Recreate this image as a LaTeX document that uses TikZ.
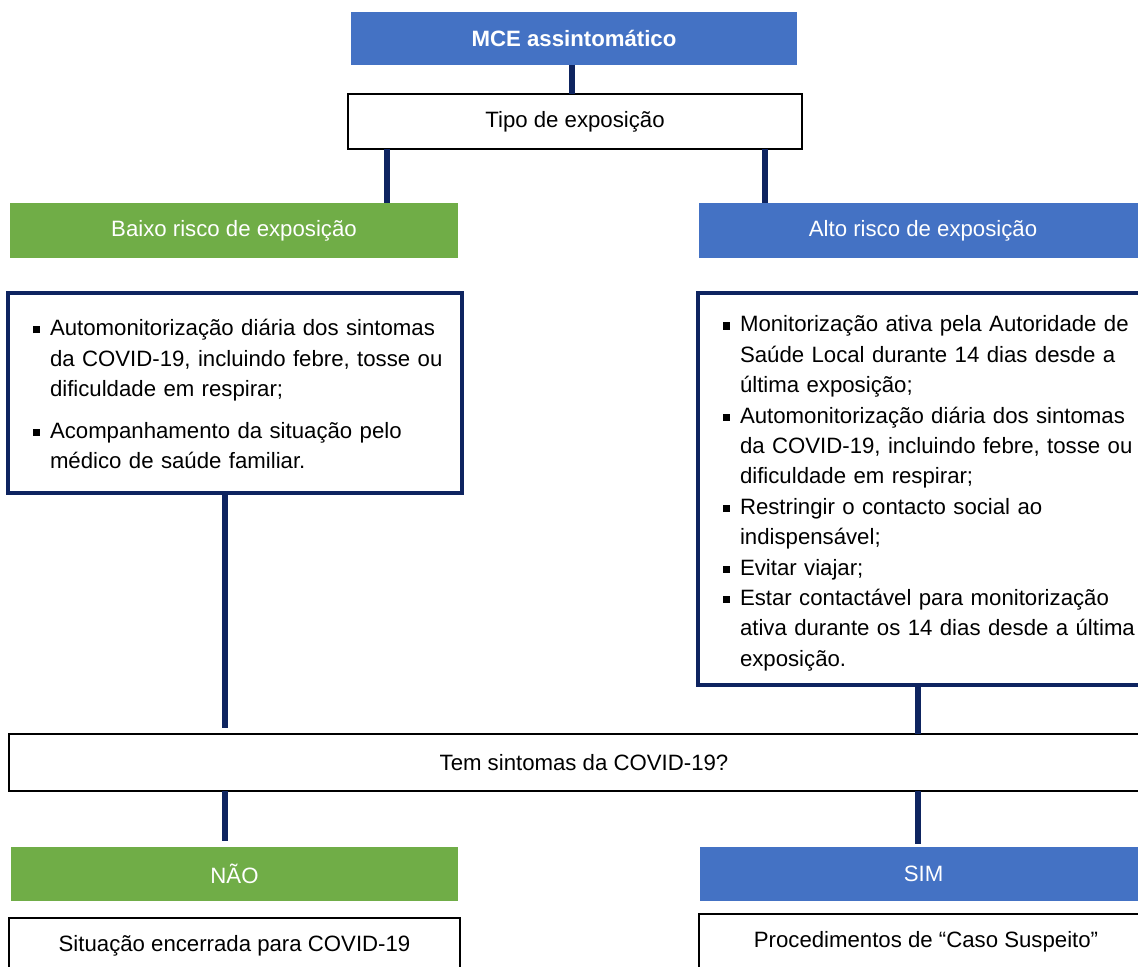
\documentclass[tikz,border=0pt]{standalone}
\usepackage{fontspec}
\setmainfont{Liberation Sans}
\usepackage{xcolor}
\usepackage{tikz}
\definecolor{boxblue}{HTML}{4472C4}
\definecolor{boxgreen}{HTML}{70AD47}
\definecolor{navy}{HTML}{0E2460}

\newcommand\bitem[1]{\par{\let\\\newline\noindent\hangindent=8.5pt\hangafter=1%
  \makebox[8.5pt][l]{\rule[1.1pt]{3.6pt}{3.6pt}}#1\par}}

\begin{document}
\begin{tikzpicture}[x=0.5pt, y=-0.5pt,
    box/.style={rectangle, inner sep=0pt, outer sep=0pt, anchor=north west,
      font=\fontsize{11.1}{13}\selectfont},
    bluebox/.style={box, fill=boxblue, text=white},
    greenbox/.style={box, fill=boxgreen, text=white},
    plainbox/.style={box, draw=black, line width=1pt, fill=white},
    listbox/.style={box, draw=navy, line width=1.6pt},
    bullets/.style={inner sep=0pt, outer sep=0pt, anchor=north west, text width=#1},
    link/.style={draw=navy, line width=2.6pt}]
    \useasboundingbox (0,0) rectangle (1138,966);
    \clip (0,0) rectangle (1138,966);

    \node[bluebox, minimum width=223pt, minimum height=26.5pt, font=\fontsize{11.1}{13}\selectfont\bfseries] (mce) at (351,12) {MCE assintomático};
    \node[plainbox, minimum width=227pt, minimum height=27.5pt] (tipo) at (348,94) {Tipo de exposição};
    \node[greenbox, minimum width=224pt, minimum height=27.5pt] (baixo) at (10,203) {Baixo risco de exposição};
    \node[bluebox, minimum width=224pt, minimum height=27.5pt] (alto) at (699,203) {Alto risco de exposição};

    \node[listbox, minimum width=227pt, minimum height=100pt] (lbox) at (8,293) {};
    \node[listbox, minimum width=227pt, minimum height=196pt] (rbox) at (698,293) {};

    \node[bullets=215pt, font=\fontsize{11.1}{15.25}\selectfont] (ltxt) at ([xshift=12.5pt, yshift=-6pt]lbox.north west) {%
      \bitem{Automonitorização diária dos sintomas\\da COVID-19, incluindo febre, tosse ou\\dificuldade em respirar;}%
      \vspace{5.5pt}%
      \bitem{Acompanhamento da situação pelo\\médico de saúde familiar.}};
    \node[bullets=215pt, font=\fontsize{11.1}{15.2}\selectfont] (rtxt) at ([xshift=12.5pt, yshift=-4.2pt]rbox.north west) {%
      \bitem{Monitorização ativa pela Autoridade de\\Saúde Local durante 14 dias desde a\\última exposição;}%
      \bitem{Automonitorização diária dos sintomas\\da COVID-19, incluindo febre, tosse ou\\dificuldade em respirar;}%
      \bitem{Restringir o contacto social ao\\indispensável;}%
      \bitem{Evitar viajar;}%
      \bitem{Estar contactável para monitorização\\ativa durante os 14 dias desde a última\\exposição.}};

    \node[plainbox, minimum width=575pt, minimum height=28.5pt] (tem) at (9,734) {Tem sintomas da COVID-19?};
    \node[greenbox, minimum width=223.5pt, minimum height=27pt] (nao) at (11,847) {NÃO};
    \node[bluebox, minimum width=223.5pt, minimum height=27pt] (sim) at (700,847) {SIM};
    \node[plainbox, minimum width=225.5pt, minimum height=27.5pt] (sit) at (9,918) {Situação encerrada para COVID-19};
    \node[plainbox, minimum width=227pt, minimum height=28pt] (proc) at (699,914) {Procedimentos de “Caso Suspeito”};

    % connectors
    \coordinate (c1) at (572,0);
    \coordinate (c2) at (387,0);
    \coordinate (c3) at (765,0);
    \coordinate (c4) at (225,0);
    \coordinate (c5) at (918,0);
    \draw[link] (mce.south -| c1) -- (tipo.north -| c1);
    \draw[link] (tipo.south -| c2) -- (baixo.north -| c2);
    \draw[link] (tipo.south -| c3) -- (alto.north -| c3);
    \draw[link] (lbox.south -| c4) -- ([yshift=3pt]tem.north -| c4);
    \draw[link] (rbox.south -| c5) -- (tem.north -| c5);
    \draw[link] (tem.south -| c4) -- ([yshift=3pt]nao.north -| c4);
    \draw[link] (tem.south -| c5) -- ([yshift=1.5pt]sim.north -| c5);
\end{tikzpicture}
\end{document}
